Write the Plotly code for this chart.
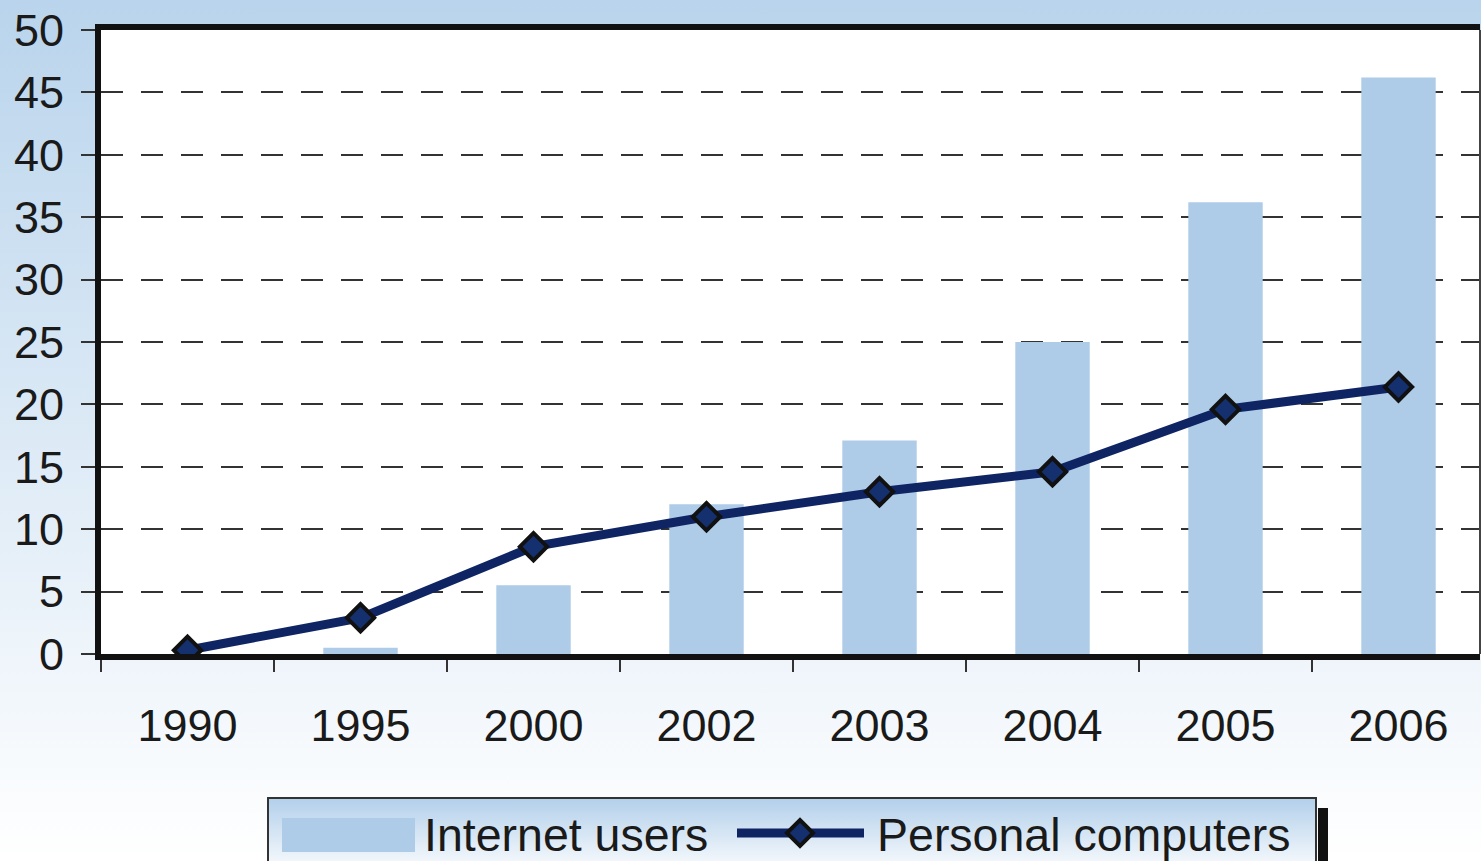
import base64
import plotly.graph_objects as go

# ---- data ----
years = ["1990", "1995", "2000", "2002", "2003", "2004", "2005", "2006"]
internet_users = [0.0, 0.5, 5.5, 12.0, 17.1, 25.0, 36.2, 46.2]
personal_computers = [0.3, 2.9, 8.6, 11.0, 13.0, 14.6, 19.6, 21.4]
y_ticks = [0, 5, 10, 15, 20, 25, 30, 35, 40, 45, 50]
legend_labels = ["Internet users", "Personal computers"]

W, H = 1481, 861
L, R, T, B = 101, 1, 30, 207
PW, PH = W - L - R, H - T - B
FONT = "Liberation Sans, Arial, Helvetica, sans-serif"
BAR_COLOR = "#aecbe8"
LINE_COLOR = "#0f2463"
MARK_COLOR = "#15306f"


def px(x):
    return (x - L) / PW


def py(y):
    return (H - B - y) / PH


def grad_svg(c1, c2):
    svg = ('<svg xmlns="http://www.w3.org/2000/svg" width="100" height="100" '
           'preserveAspectRatio="none"><defs><linearGradient id="g" x1="0" y1="0" '
           'x2="0" y2="1"><stop offset="0" stop-color="%s"/><stop offset="1" '
           'stop-color="%s"/></linearGradient></defs><rect width="100" height="100" '
           'fill="url(#g)"/></svg>') % (c1, c2)
    return "data:image/svg+xml;base64," + base64.b64encode(svg.encode()).decode()


fig = go.Figure()
fig.add_trace(go.Bar(x=years, y=internet_users, name=legend_labels[0],
                     marker=dict(color=BAR_COLOR, line=dict(width=0)), width=0.43))
fig.add_trace(go.Scatter(x=years, y=personal_computers, name=legend_labels[1],
                         mode="lines+markers",
                         line=dict(color=LINE_COLOR, width=9),
                         marker=dict(symbol="diamond", size=21, color=MARK_COLOR,
                                     line=dict(color="#111111", width=4))))

images = [
    dict(source=grad_svg("#b9d4ec", "#ffffff"), xref="paper", yref="paper",
         x=px(0), y=py(0), sizex=W / PW, sizey=H / PH, xanchor="left", yanchor="top",
         sizing="stretch", layer="below"),
    dict(source=grad_svg("#b2cfea", "#ffffff"), xref="paper", yref="paper",
         x=px(268), y=py(798), sizex=(1316 - 268) / PW, sizey=(875 - 798) / PH,
         xanchor="left", yanchor="top", sizing="stretch", layer="below"),
]

shapes = [
    # white plot area (over the background image, under the grid)
    dict(type="rect", xref="paper", yref="paper", x0=0, x1=1, y0=0, y1=1,
         line=dict(width=0), fillcolor="white", layer="below"),
    # right thin border of plot area
    dict(type="line", xref="paper", yref="paper", x0=1, x1=1, y0=0, y1=1,
         line=dict(color="#444444", width=2)),
    # legend box border
    dict(type="rect", xref="paper", yref="paper", x0=px(268), x1=px(1316),
         y0=py(875), y1=py(798), line=dict(color="#333333", width=2),
         fillcolor="rgba(0,0,0,0)"),
    # legend shadow
    dict(type="rect", xref="paper", yref="paper", x0=px(1318), x1=px(1328),
         y0=py(875), y1=py(808), line=dict(width=0), fillcolor="#111111"),
    # bar swatch
    dict(type="rect", xref="paper", yref="paper", x0=px(282), x1=px(415),
         y0=py(852), y1=py(818), line=dict(width=0), fillcolor=BAR_COLOR),
    # line swatch
    dict(type="line", xref="paper", yref="paper", x0=px(737), x1=px(864),
         y0=py(833), y1=py(833), line=dict(color=LINE_COLOR, width=9)),
    # diamond swatch
    dict(type="path", xref="paper", yref="paper", xsizemode="pixel", ysizemode="pixel",
         xanchor=px(800), yanchor=py(833), path="M -13 0 L 0 13 L 13 0 L 0 -13 Z",
         fillcolor=MARK_COLOR, line=dict(color="#111111", width=4)),
]

annotations = [
    dict(text=legend_labels[0], xref="paper", yref="paper", x=px(422), y=py(835),
         xanchor="left", yanchor="middle", showarrow=False,
         font=dict(family=FONT, size=46.5, color="#1a1a1a")),
    dict(text=legend_labels[1], xref="paper", yref="paper", x=px(875), y=py(835),
         xanchor="left", yanchor="middle", showarrow=False,
         font=dict(family=FONT, size=46.5, color="#1a1a1a")),
]

fig.update_layout(
    width=W, height=H,
    margin=dict(l=L, r=R, t=T, b=B, pad=0),
    paper_bgcolor="white", plot_bgcolor="white",
    showlegend=False,
    font=dict(family=FONT, size=45, color="#1a1a1a"),
    images=images, shapes=shapes, annotations=annotations,
    bargap=0.57,
)
fig.update_xaxes(
    type="category", range=[-0.5, -0.5 + PW / 173.0],
    showline=True, linewidth=6, linecolor="#111111", mirror=True,
    ticks="outside", tickson="boundaries", ticklen=12, tickwidth=2, tickcolor="#333333",
    showgrid=False, ticklabelstandoff=27,
    tickfont=dict(family=FONT, size=45, color="#1a1a1a"),
)
fig.update_yaxes(
    range=[0, 50], tickvals=y_ticks,
    showline=True, linewidth=6, linecolor="#111111",
    ticks="outside", ticklen=14, tickwidth=2, tickcolor="#333333",
    showgrid=True, gridcolor="#333333", gridwidth=2, griddash="22px,18px",
    zeroline=False, ticklabelstandoff=8,
    tickfont=dict(family=FONT, size=45, color="#1a1a1a"),
)

fig.write_html(
    "out.html",
    config={"displayModeBar": False},
    post_script="document.body.style.margin='0';document.body.style.padding='0';"
                "document.body.style.overflow='hidden';",
)
